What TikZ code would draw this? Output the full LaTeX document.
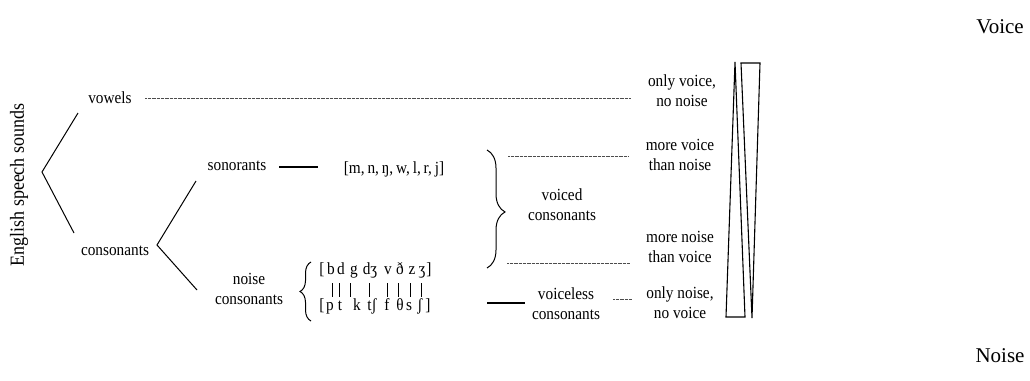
\documentclass[tikz,border=0pt]{standalone}
\usepackage{fontspec}
\setmainfont{Liberation Serif}[FakeStretch=0.9]
\newfontfamily\plainserif{Liberation Serif}
\usetikzlibrary{decorations.pathreplacing}
\begin{document}
\begin{tikzpicture}[x=1pt,y=-1pt,
  lbl/.style={font=\fontsize{17}{20}\selectfont, align=center, inner sep=0pt},
  ipa/.style={font=\fontsize{17}{20}\selectfont, inner sep=0pt, anchor=base},
  big/.style={font=\plainserif\fontsize{21}{24}\selectfont, inner sep=0pt},
  branch/.style={line width=1pt},
  dotline/.style={line width=0.7pt, dash pattern=on 0.4pt off 0.9pt, black!70},
  solidline/.style={line width=1.1pt},
  bar/.style={line width=0.9pt},
  wedge/.style={line width=1.1pt, line join=miter}]
\useasboundingbox (0,0) rectangle (1030,380);

% --- classification tree ---
\node[lbl, font=\fontsize{20}{22}\selectfont, rotate=90] (root) at (19,185) {English speech sounds};
\node[lbl] (vowels) at (110,98) {vowels};
\node[lbl] (cons) at (115,251) {consonants};
\coordinate (fork1) at (42,172);
\coordinate (v-in) at (78,113);
\coordinate (c-in) at (74,233);
\draw[branch] (v-in) -- (fork1) -- (c-in);

\coordinate (fork2) at (157,245);
\coordinate (s-in) at (196,181);
\coordinate (n-in) at (197,290);
\draw[branch] (s-in) -- (fork2) -- (n-in);

% --- sonorants ---
\node[lbl] (son) at (237,166) {sonorants};
\node[lbl] (sonipa) at (394,169) {[m,\,n,\,ŋ,\,w,\,l,\,r,\,j]};
\coordinate (s-a) at (279,167);
\coordinate (s-b) at (318,167);
\draw[solidline] (s-a) -- (s-b);

% --- noise consonants and their voiced/voiceless pairs ---
\node[lbl] (noise) at (249,289) {noise\\consonants};
\draw[branch, decorate, decoration={brace, amplitude=11pt}] (311,321) -- (311,262);

\foreach \x/\t/\n in {322/[/lb1, 331/b/b, 341/d/d, 354/g/g, 370/dʒ/dzh, 388/v/v, 400/ð/eth, 412/z/z, 422/ʒ/zh, 429/]/rb1}
  \node[ipa] (\n) at (\x,274) {\t};
\foreach \x/\t/\n in {322/[/lb2, 330/p/p, 340/t/t, 357/k/k, 372/tʃ/tsh, 387/f/f, 400/θ/th, 409/s/s, 420/ʃ/sh, 428/]/rb2}
  \node[ipa] (\n) at (\x,310) {\t};
\foreach \x in {332,339,350,369,387,398,410,421}
  \draw[bar] (\x,283) -- (\x,297);

% --- voiced / voiceless ---
\draw[branch, decorate, decoration={brace, amplitude=18pt, aspect=0.525}] (487,150) -- (487,268);
\node[lbl] (voiced) at (562,205) {voiced\\consonants};
\coordinate (vc-a) at (487,303);
\coordinate (vc-b) at (525,303);
\draw[solidline] (vc-a) -- (vc-b);
\node[lbl] (voiceless) at (566,304) {voiceless\\consonants};

% --- degree of voice and noise ---
\node[lbl] (ovnn) at (682,91) {only voice,\\no noise};
\node[lbl] (mvtn) at (680,155) {more voice\\than noise};
\node[lbl] (mntv) at (680,247) {more noise\\than voice};
\node[lbl] (onnv) at (680,303) {only noise,\\no voice};

\coordinate (d1a) at (145,98);  \coordinate (d1b) at (630,98);
\coordinate (d2a) at (508,156); \coordinate (d2b) at (628,156);
\coordinate (d3a) at (507,263); \coordinate (d3b) at (630,263);
\coordinate (d4a) at (613,299); \coordinate (d4b) at (632,299);
\draw[dotline] (d1a) -- (d1b);
\draw[dotline] (d2a) -- (d2b);
\draw[dotline] (d3a) -- (d3b);
\draw[dotline] (d4a) -- (d4b);

% wedges: voice narrows upward, noise narrows downward
\draw[wedge] (735,62) -- (745,317) -- (726,317) -- cycle;
\draw[wedge] (741,63) -- (760,63) -- (752,318) -- cycle;

\node[big] (voice) at (1000,27) {Voice};
\node[big] (noiselbl) at (1000,356) {Noise};
\end{tikzpicture}
\end{document}
